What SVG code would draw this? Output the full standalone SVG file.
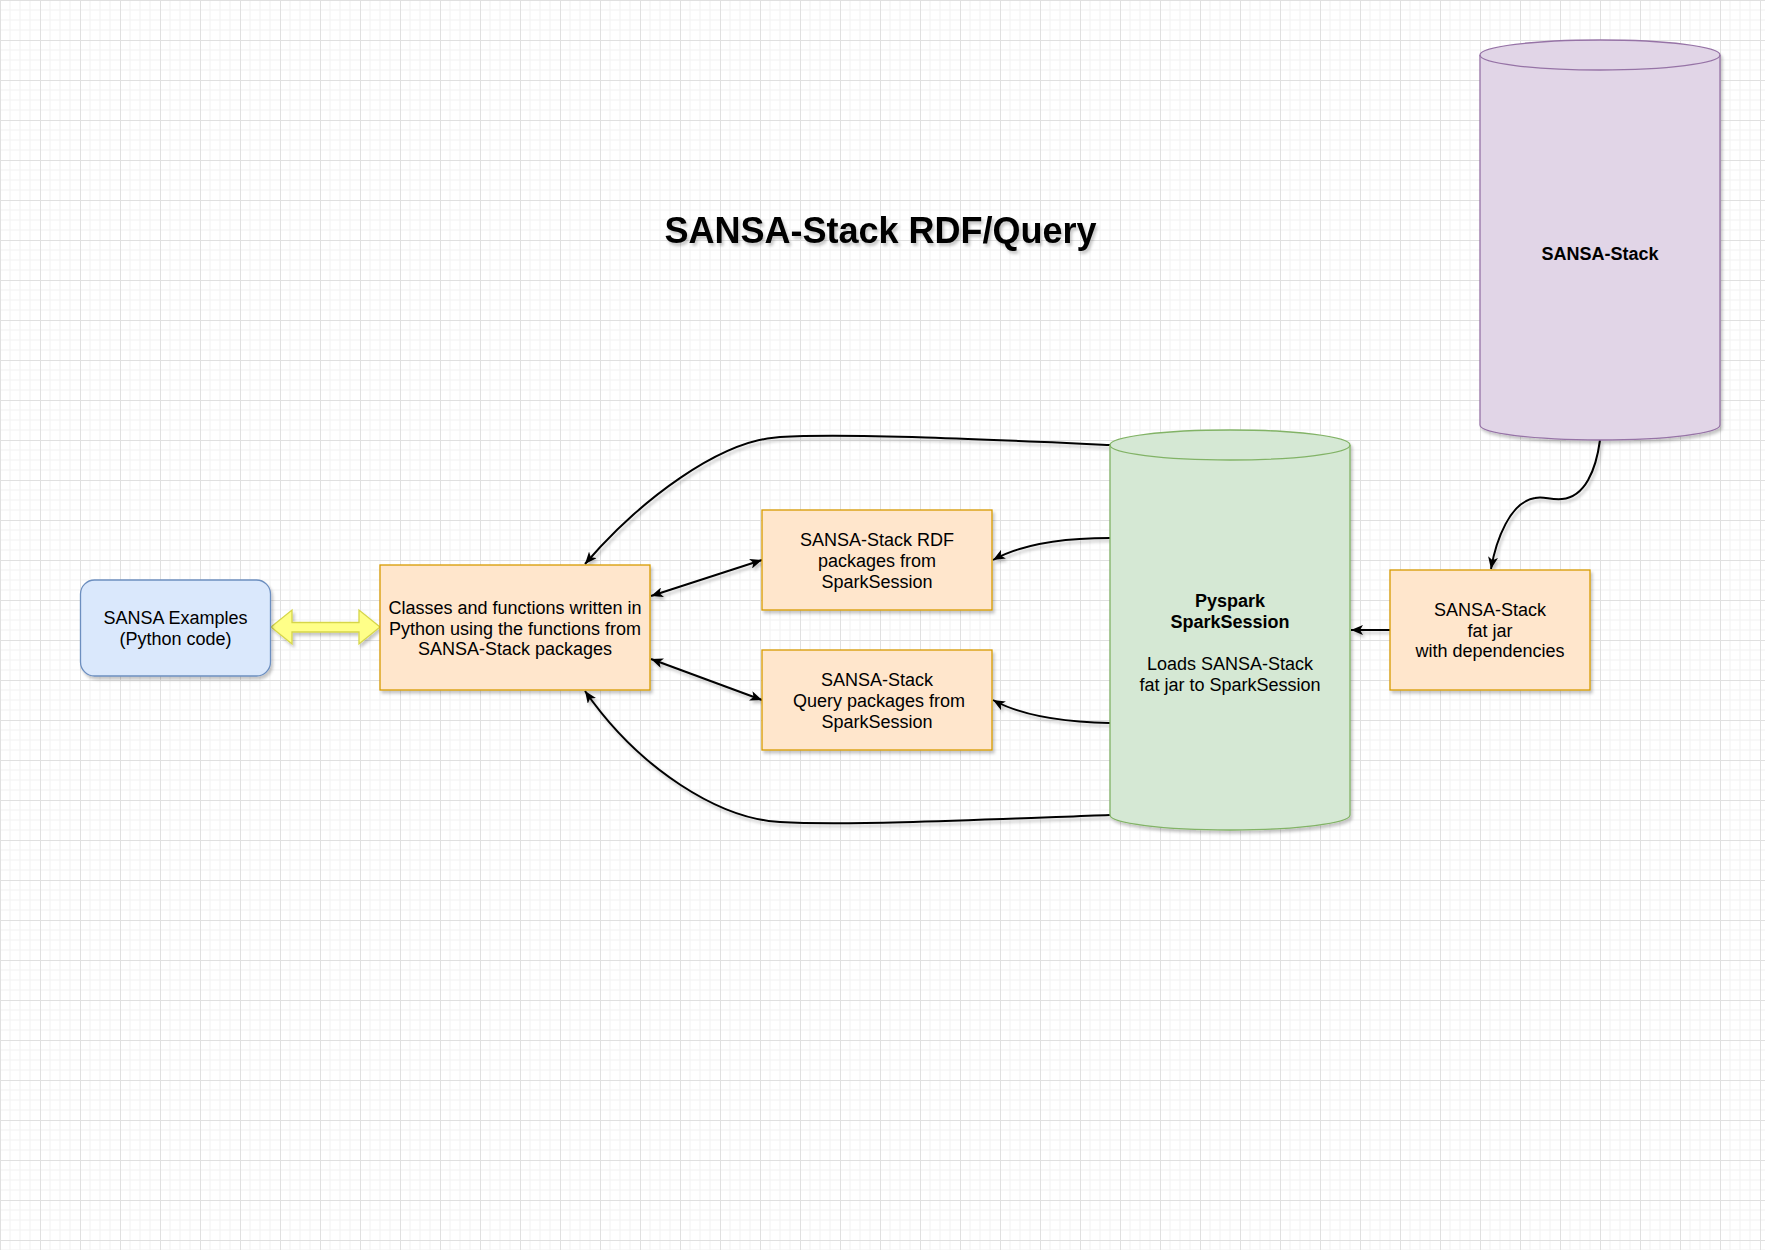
<svg xmlns="http://www.w3.org/2000/svg" width="1765" height="1250" viewBox="0 0 1765 1250">
<defs>
<pattern id="grid" x="0" y="0" width="40" height="40" patternUnits="userSpaceOnUse">
<rect width="40" height="40" fill="#ffffff"/>
<path d="M10,0V40M20,0V40M30,0V40M0,10H40M0,20H40M0,30H40" stroke="#f2f2f2" stroke-width="1" fill="none"/>
<path d="M0.5,0V40M0,0.5H40" stroke="#e0e0e0" stroke-width="1" fill="none"/>
</pattern>
<filter id="sh" x="-20%" y="-20%" width="140%" height="140%">
<feDropShadow dx="2" dy="3" stdDeviation="1.5" flood-color="#000" flood-opacity="0.22"/>
</filter>
<filter id="shl" filterUnits="userSpaceOnUse" x="0" y="0" width="1765" height="1250">
<feDropShadow dx="2" dy="3" stdDeviation="1.5" flood-color="#000" flood-opacity="0.22"/>
</filter>
<marker id="arr" viewBox="0 0 12 10" refX="12" refY="5" markerWidth="12" markerHeight="10" markerUnits="userSpaceOnUse" orient="auto-start-reverse">
<path d="M0,0 L12,5 L0,10 L3,5 Z" fill="#000"/>
</marker>
<style>
.t{font-family:"Liberation Sans",Arial,sans-serif;font-size:18px;fill:#000;text-anchor:middle}
.b{font-weight:bold}
.box{fill:#ffe6cc;stroke:#d79b00;stroke-width:1.3;filter:url(#sh)}
.con{fill:none;stroke:#000;stroke-width:2}
</style>
</defs>
<rect width="1765" height="1250" fill="url(#grid)"/>

<g id="title" filter="url(#sh)">
<text x="880.5" y="242.5" class="t b" style="font-size:36px">SANSA-Stack RDF/Query</text>
</g>

<g id="connectors" filter="url(#shl)">
<path class="con" d="M1600,440 C1596,470 1585,497 1562,499 C1550,500 1544,496 1535,498 C1510,502 1496,540 1491,569" marker-end="url(#arr)"/>
<path class="con" d="M1390,630 L1351,630" marker-end="url(#arr)"/>
<path class="con" d="M1110,445 C1000,440 850,433 780,437 C720,440 640,500 585,564" marker-end="url(#arr)"/>
<path class="con" d="M1110,815 C1000,819 850,826 780,822 C720,819 640,770 585,691" marker-end="url(#arr)"/>
<path class="con" d="M1110,538 C1060,538 1020,545 993,560" marker-end="url(#arr)"/>
<path class="con" d="M1110,723 C1060,722 1020,715 993,700" marker-end="url(#arr)"/>
<path class="con" d="M651,596 L762,560" marker-start="url(#arr)" marker-end="url(#arr)"/>
<path class="con" d="M651,659 L762,700" marker-start="url(#arr)" marker-end="url(#arr)"/>
<polygon points="271,627 292,610 292,622.5 359,622.5 359,610 380,627 359,644 359,632 292,632 292,644" fill="#ffff88" stroke="#d6d64a" stroke-width="1.3"/>
</g>

<g id="sansa-stack">
<path d="M1480,55 A120,15 0 0 1 1720,55 L1720,425 A120,15 0 0 1 1480,425 Z" fill="#e1d5e7" stroke="#9673a6" stroke-width="1.3" filter="url(#sh)"/>
<path d="M1480,55 A120,15 0 0 0 1720,55" fill="none" stroke="#9673a6" stroke-width="1.3"/>
<text x="1600" y="259.5" class="t b">SANSA-Stack</text>
</g>

<g id="sparksession">
<path d="M1110,445 A120,15 0 0 1 1350,445 L1350,815 A120,15 0 0 1 1110,815 Z" fill="#d5e8d4" stroke="#82b366" stroke-width="1.3" filter="url(#sh)"/>
<path d="M1110,445 A120,15 0 0 0 1350,445" fill="none" stroke="#82b366" stroke-width="1.3"/>
<text x="1230" y="606.5" class="t b">Pyspark</text>
<text x="1230" y="627.5" class="t b">SparkSession</text>
<text x="1230" y="669.5" class="t">Loads SANSA-Stack</text>
<text x="1230" y="690.5" class="t">fat jar to SparkSession</text>
</g>

<g id="fatjar">
<rect x="1390" y="570" width="200" height="120" class="box"/>
<text x="1490" y="615.5" class="t">SANSA-Stack</text>
<text x="1490" y="636.5" class="t">fat jar</text>
<text x="1490" y="657" class="t">with dependencies</text>
</g>

<g id="rdf">
<rect x="762" y="510" width="230" height="100" class="box"/>
<text x="877" y="545.5" class="t">SANSA-Stack RDF</text>
<text x="877" y="566.5" class="t">packages from</text>
<text x="877" y="587.5" class="t">SparkSession</text>
</g>

<g id="query">
<rect x="762" y="650" width="230" height="100" class="box"/>
<text x="877" y="685.5" class="t">SANSA-Stack</text>
<text x="879" y="706.5" class="t">Query packages from</text>
<text x="877" y="727.5" class="t">SparkSession</text>
</g>

<g id="classes">
<rect x="380" y="565" width="270" height="125" class="box"/>
<text x="515" y="614" class="t">Classes and functions written in</text>
<text x="515" y="634.7" class="t">Python using the functions from</text>
<text x="515" y="655.4" class="t">SANSA-Stack packages</text>
</g>

<g id="examples">
<rect x="80.5" y="580" width="190" height="96" rx="14" ry="14" fill="#dae8fc" stroke="#6c8ebf" stroke-width="1.3" filter="url(#sh)"/>
<text x="175.5" y="624" class="t">SANSA Examples</text>
<text x="175.5" y="645" class="t">(Python code)</text>
</g>
</svg>
